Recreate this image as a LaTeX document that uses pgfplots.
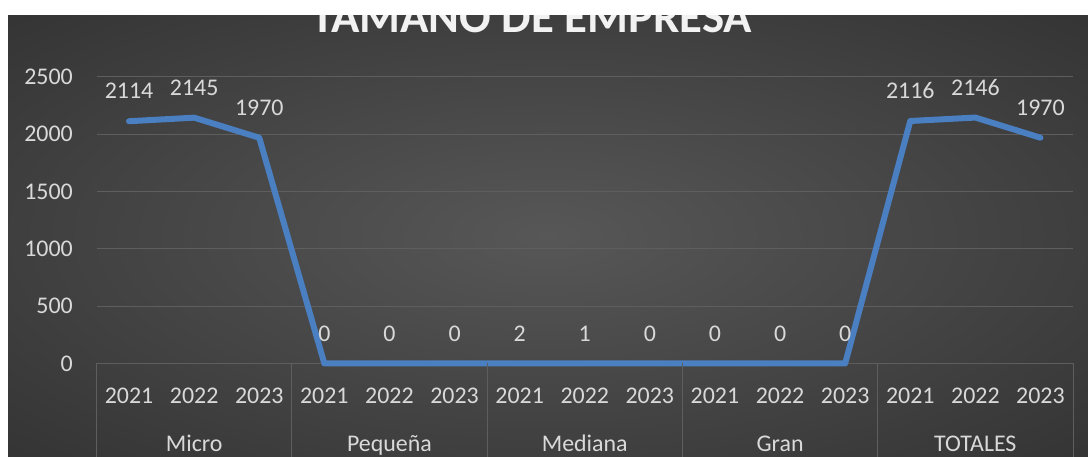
\documentclass[border=0pt]{standalone}
\usepackage{pgfplots}
\pgfplotsset{compat=1.18}
\usepackage{fontspec}
\setmainfont{Carlito}
\definecolor{bgc}{HTML}{575757}
\definecolor{bge}{HTML}{262626}
\definecolor{linec}{HTML}{4A7FC1}
\definecolor{gridc}{HTML}{5E5E5E}
\definecolor{txt}{HTML}{D9D9D9}
\definecolor{ttl}{HTML}{F2F2F2}
\pgfdeclareradialshading{bgshade}{\pgfpoint{0bp}{0bp}}{color(0bp)=(bgc); color(50bp)=(bge)}
\pgfkeys{/pgf/number format/1000 sep={}}
\begin{document}
\begin{tikzpicture}[x=1bp,y=1bp]
\path[use as bounding box] (0,0) rectangle (1088,457);
\fill[white] (0,0) rectangle (1088,457);
\shade[shading=bgshade] (7.6,0) rectangle (1088,442.4);
\node[font=\fontsize{47}{52}\selectfont\bfseries, text=ttl, anchor=base] at (532,424) {TAMAÑO DE EMPRESA};
\begin{axis}[
  at={(96.5bp,93.5bp)}, anchor=south west,
  width=976.5bp, height=286.5bp, scale only axis,
  xmin=-0.5, xmax=14.5, ymin=0, ymax=2500,
  axis line style={draw=none},
  major tick length=0pt,
  ymajorgrids, grid style={gridc, line width=1bp},
  xtick={0,...,14},
  xticklabels={2021,2022,2023,2021,2022,2023,2021,2022,2023,2021,2022,2023,2021,2022,2023},
  ytick={0,500,...,2500},
  /pgf/number format/assume math mode=true,
  /pgf/number format/1000 sep={},
  tick label style={font=\fontsize{24}{28}\selectfont, text=txt, inner sep=0pt},
  yticklabel style={anchor=east, xshift=-23.5bp},
  xticklabel style={anchor=base, yshift=-40.5bp},
  clip=false,
  nodes near coords,
  nodes near coords style={font=\fontsize{24}{28}\selectfont, text=txt, anchor=center, yshift=30bp, inner sep=0pt, /pgf/number format/fixed, /pgf/number format/precision=0, /pgf/number format/assume math mode=true},
]
\addplot[linec, line width=6bp, line cap=round, line join=round] coordinates {
(0,2114) (1,2145) (2,1970)
(3,0) (4,0) (5,0)
(6,2) (7,1) (8,0)
(9,0) (10,0) (11,0)
(12,2116) (13,2146) (14,1970)};
\foreach \xx in {-0.5,2.5,5.5,8.5,11.5,14.5}{
  \edef\tmp{\noexpand\draw[gridc, line width=1bp] (axis cs:\xx,0) -- ([yshift=-93.5bp]axis cs:\xx,0);}\tmp
}
\node[font=\fontsize{24}{28}\selectfont, text=txt, anchor=base] at ([yshift=-88bp]axis cs:1,0) {Micro};
\node[font=\fontsize{24}{28}\selectfont, text=txt, anchor=base] at ([yshift=-88bp]axis cs:4,0) {Pequeña};
\node[font=\fontsize{24}{28}\selectfont, text=txt, anchor=base] at ([yshift=-88bp]axis cs:7,0) {Mediana};
\node[font=\fontsize{24}{28}\selectfont, text=txt, anchor=base] at ([yshift=-88bp]axis cs:10,0) {Gran};
\node[font=\fontsize{24}{28}\selectfont, text=txt, anchor=base] at ([yshift=-88bp]axis cs:13,0) {TOTALES};
\end{axis}
\fill[white] (0,442.4) rectangle (1088,457);
\fill[white] (0,0) rectangle (7.6,457);
\end{tikzpicture}
\end{document}
